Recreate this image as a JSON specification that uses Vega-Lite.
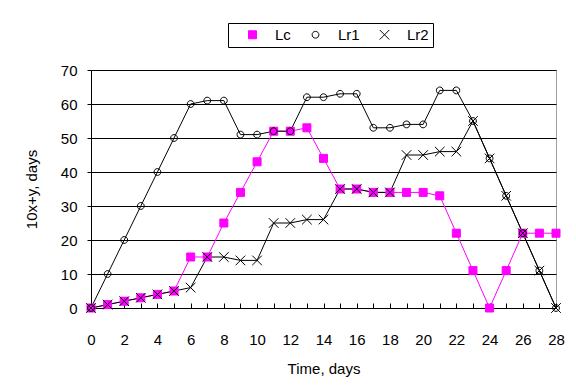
{
  "$schema": "https://vega.github.io/schema/vega-lite/v6.json",
  "width": 465,
  "height": 238,
  "autosize": {"type": "none"},
  "padding": {"left": 91, "top": 70, "right": 20, "bottom": 82},
  "background": "white",
  "config": {
    "font": "Liberation Sans",
    "view": {"stroke": "#a0a0a0", "strokeWidth": 1}
  },
  "data": {
    "values": [
      {"t":0,"s":"Lc","v":0},{"t":1,"s":"Lc","v":1},{"t":2,"s":"Lc","v":2},{"t":3,"s":"Lc","v":3},{"t":4,"s":"Lc","v":4},{"t":5,"s":"Lc","v":5},{"t":6,"s":"Lc","v":15},{"t":7,"s":"Lc","v":15},{"t":8,"s":"Lc","v":25},{"t":9,"s":"Lc","v":34},{"t":10,"s":"Lc","v":43},{"t":11,"s":"Lc","v":52},{"t":12,"s":"Lc","v":52},{"t":13,"s":"Lc","v":53},{"t":14,"s":"Lc","v":44},{"t":15,"s":"Lc","v":35},{"t":16,"s":"Lc","v":35},{"t":17,"s":"Lc","v":34},{"t":18,"s":"Lc","v":34},{"t":19,"s":"Lc","v":34},{"t":20,"s":"Lc","v":34},{"t":21,"s":"Lc","v":33},{"t":22,"s":"Lc","v":22},{"t":23,"s":"Lc","v":11},{"t":24,"s":"Lc","v":0},{"t":25,"s":"Lc","v":11},{"t":26,"s":"Lc","v":22},{"t":27,"s":"Lc","v":22},{"t":28,"s":"Lc","v":22},
      {"t":0,"s":"Lr1","v":0},{"t":1,"s":"Lr1","v":10},{"t":2,"s":"Lr1","v":20},{"t":3,"s":"Lr1","v":30},{"t":4,"s":"Lr1","v":40},{"t":5,"s":"Lr1","v":50},{"t":6,"s":"Lr1","v":60},{"t":7,"s":"Lr1","v":61},{"t":8,"s":"Lr1","v":61},{"t":9,"s":"Lr1","v":51},{"t":10,"s":"Lr1","v":51},{"t":11,"s":"Lr1","v":52},{"t":12,"s":"Lr1","v":52},{"t":13,"s":"Lr1","v":62},{"t":14,"s":"Lr1","v":62},{"t":15,"s":"Lr1","v":63},{"t":16,"s":"Lr1","v":63},{"t":17,"s":"Lr1","v":53},{"t":18,"s":"Lr1","v":53},{"t":19,"s":"Lr1","v":54},{"t":20,"s":"Lr1","v":54},{"t":21,"s":"Lr1","v":64},{"t":22,"s":"Lr1","v":64},{"t":23,"s":"Lr1","v":55},{"t":24,"s":"Lr1","v":44},{"t":25,"s":"Lr1","v":33},{"t":26,"s":"Lr1","v":22},{"t":27,"s":"Lr1","v":11},{"t":28,"s":"Lr1","v":0},
      {"t":0,"s":"Lr2","v":0},{"t":1,"s":"Lr2","v":1},{"t":2,"s":"Lr2","v":2},{"t":3,"s":"Lr2","v":3},{"t":4,"s":"Lr2","v":4},{"t":5,"s":"Lr2","v":5},{"t":6,"s":"Lr2","v":6},{"t":7,"s":"Lr2","v":15},{"t":8,"s":"Lr2","v":15},{"t":9,"s":"Lr2","v":14},{"t":10,"s":"Lr2","v":14},{"t":11,"s":"Lr2","v":25},{"t":12,"s":"Lr2","v":25},{"t":13,"s":"Lr2","v":26},{"t":14,"s":"Lr2","v":26},{"t":15,"s":"Lr2","v":35},{"t":16,"s":"Lr2","v":35},{"t":17,"s":"Lr2","v":34},{"t":18,"s":"Lr2","v":34},{"t":19,"s":"Lr2","v":45},{"t":20,"s":"Lr2","v":45},{"t":21,"s":"Lr2","v":46},{"t":22,"s":"Lr2","v":46},{"t":23,"s":"Lr2","v":55},{"t":24,"s":"Lr2","v":44},{"t":25,"s":"Lr2","v":33},{"t":26,"s":"Lr2","v":22},{"t":27,"s":"Lr2","v":11},{"t":28,"s":"Lr2","v":0}
    ]
  },
  "encoding": {
    "x": {
      "field": "t", "type": "quantitative",
      "scale": {"domain": [0, 28], "nice": false, "zero": false},
      "axis": {
        "title": "Time, days",
        "values": [0,1,2,3,4,5,6,7,8,9,10,11,12,13,14,15,16,17,18,19,20,21,22,23,24,25,26,27,28],
        "labelExpr": "datum.value % 2 === 0 ? datum.label : ''",
        "grid": false,
        "tickSize": -5,
        "labelPadding": 29,
        "labelFontSize": 15,
        "labelColor": "black",
        "labelFlush": false,
        "labelOverlap": false,
        "domainColor": "black",
        "tickColor": "black",
        "titleFontSize": 15,
        "titleFontWeight": "normal",
        "titleColor": "black",
        "titlePadding": 14
      }
    },
    "y": {
      "field": "v", "type": "quantitative",
      "scale": {"domain": [0, 70], "nice": false},
      "axis": {
        "title": "10x+y, days",
        "values": [0,10,20,30,40,50,60,70],
        "grid": true,
        "gridColor": "black",
        "gridOpacity": 1,
        "tickSize": 4,
        "labelPadding": 10,
        "labelFontSize": 15,
        "labelColor": "black",
        "domainColor": "black",
        "tickColor": "black",
        "titleFontSize": 15,
        "titleFontWeight": "normal",
        "titleColor": "black",
        "titlePadding": 21
      }
    },
    "stroke": {
      "field": "s", "type": "nominal",
      "scale": {"domain": ["Lc", "Lr1", "Lr2"], "range": ["#ff00ff", "black", "black"]}
    }
  },
  "layer": [
    {
      "mark": {"type": "line", "strokeWidth": 1}
    },
    {
      "mark": {"type": "point", "opacity": 1, "strokeWidth": 1, "size": 64},
      "encoding": {
        "shape": {
          "field": "s", "type": "nominal",
          "scale": {"domain": ["Lc", "Lr1", "Lr2"], "range": ["M-1,-1H1V1H-1Z", "M-0.85,0A0.85,0.85,0,1,0,0.85,0A0.85,0.85,0,1,0,-0.85,0Z", "M-1.2,-1.2L1.2,1.2M-1.2,1.2L1.2,-1.2"]},
          "legend": {
            "orient": "none",
            "legendX": 137,
            "legendY": -47,
            "direction": "horizontal",
            "title": null,
            "strokeColor": "black",
            "padding": 4,
            "columnPadding": 4,
            "symbolOffset": 13,
            "labelOffset": 15,
            "labelFontSize": 15,
            "labelColor": "black",
            "symbolSize": 64,
            "symbolStrokeWidth": 1
          }
        },
        "fill": {
          "field": "s", "type": "nominal",
          "scale": {"domain": ["Lc", "Lr1", "Lr2"], "range": ["#ff00ff", "transparent", "transparent"]}
        }
      }
    }
  ]
}
